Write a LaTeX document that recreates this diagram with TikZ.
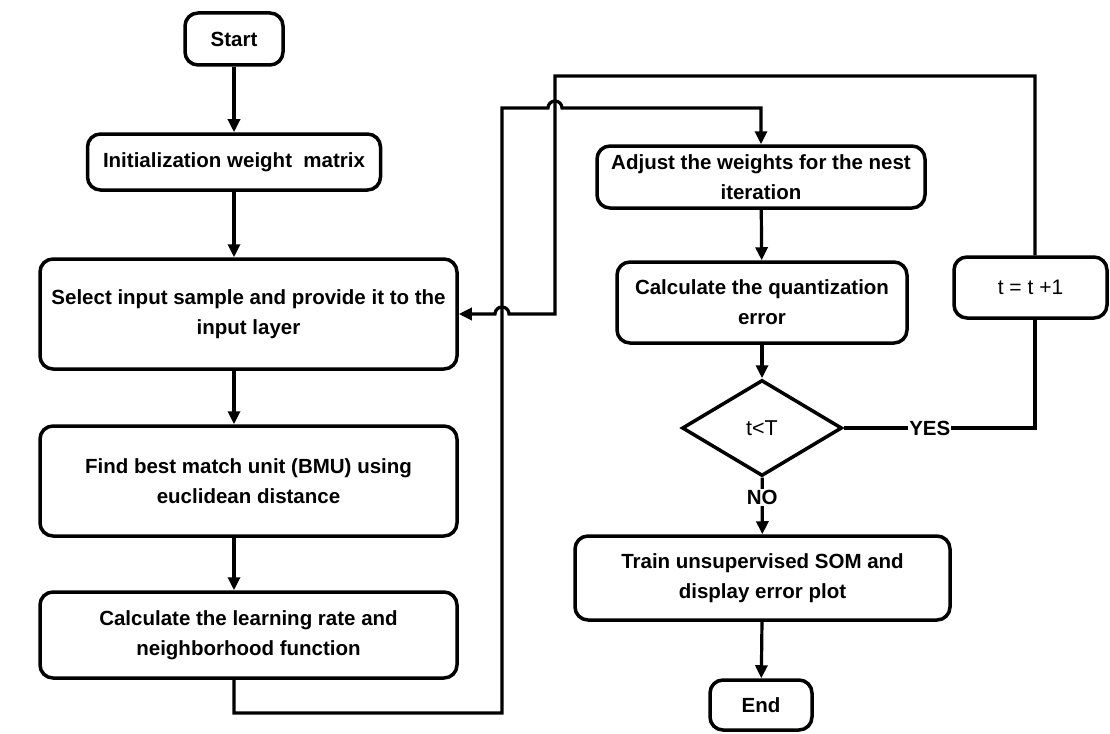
\documentclass[tikz,border=0pt]{standalone}
\usepackage{fontspec}
\setmainfont{Liberation Sans}
\usetikzlibrary{shapes.geometric,arrows.meta}
\begin{document}
\begin{tikzpicture}[x=1pt,y=-1pt,
  box/.style={draw=black,line width=3.5pt,rounded corners=13pt,align=center,
    font=\fontsize{20.5}{30}\selectfont\bfseries,inner sep=0pt},
  line/.style={draw=black,line width=3.2pt},
  arr/.style={line,-{Triangle[length=13pt,width=12pt]}},
  lab/.style={fill=white,inner sep=1pt,font=\fontsize{20.5}{24}\selectfont\bfseries}]
\useasboundingbox (0,0) rectangle (1110,733);
\node[box,minimum width=98pt,minimum height=52pt] (start) at (234,39) {Start};
\node[box,minimum width=293pt,minimum height=56pt] (init) at (234,162) {Initialization weight\ \ matrix};
\node[box,minimum width=417pt,minimum height=110pt] (select) at (248.5,314) {Select input sample and provide it to the\\input layer};
\node[box,minimum width=417pt,minimum height=110pt] (find) at (248.5,481) {Find best match unit (BMU) using\\euclidean distance};
\node[box,minimum width=417pt,minimum height=86pt] (calc) at (248.5,635) {Calculate the learning rate and\\neighborhood function};
\node[box,minimum width=328pt,minimum height=62pt] (adjust) at (761,177) {Adjust the weights for the nest\\iteration};
\node[box,minimum width=290pt,minimum height=81pt] (quant) at (762,302.5) {Calculate the quantization\\error};
\node[draw=black,line width=3.5pt,diamond,minimum width=160pt,minimum height=96pt,inner sep=0pt,
  font=\fontsize{21.5}{24}\selectfont] (dia) at (762,428) {t<T};
\node[box,minimum width=375pt,minimum height=84pt] (train) at (762.5,578) {Train unsupervised SOM and\\display error plot};
\node[box,minimum width=102pt,minimum height=50pt] (end) at (761,705) {End};
\node[box,minimum width=153pt,minimum height=61pt,font=\fontsize{21}{24}\selectfont] (tinc) at (1030.5,287.5) {t = t +1};
\coordinate (a1) at (502,713);
\coordinate (a2) at (502,108);
\coordinate (a3) at (548,108);
\coordinate (b1) at (1035,428);
\coordinate (b2) at (1035,76);
\coordinate (b3) at (555,76);
\coordinate (b4) at (509,314);
\draw[arr] (start) -- (init);
\draw[arr] (init) -- (init |- select.north);
\draw[arr] (init |- select.south) -- (init |- find.north);
\draw[arr] (init |- find.south) -- (init |- calc.north);
\draw[arr,rounded corners=0pt] (init |- calc.south) |- (a1) -- (a2) -- (a3) arc[start angle=180,end angle=360,radius=7] -| (adjust.north);
\draw[arr] (adjust) -- (quant);
\draw[arr] (quant) -- (dia);
\draw[arr] (dia) -- node[lab,pos=0.35]{NO} (train);
\draw[arr] (train) -- (end);
\draw[line] (dia.east) -- node[lab,pos=0.45]{YES} (b1) -- (b1 |- tinc.south);
\draw[arr] (b1 |- tinc.north) -- (b2) -- (b3) |- (b4) arc[start angle=0,end angle=-180,radius=7] -- (select.east);
\end{tikzpicture}
\end{document}
